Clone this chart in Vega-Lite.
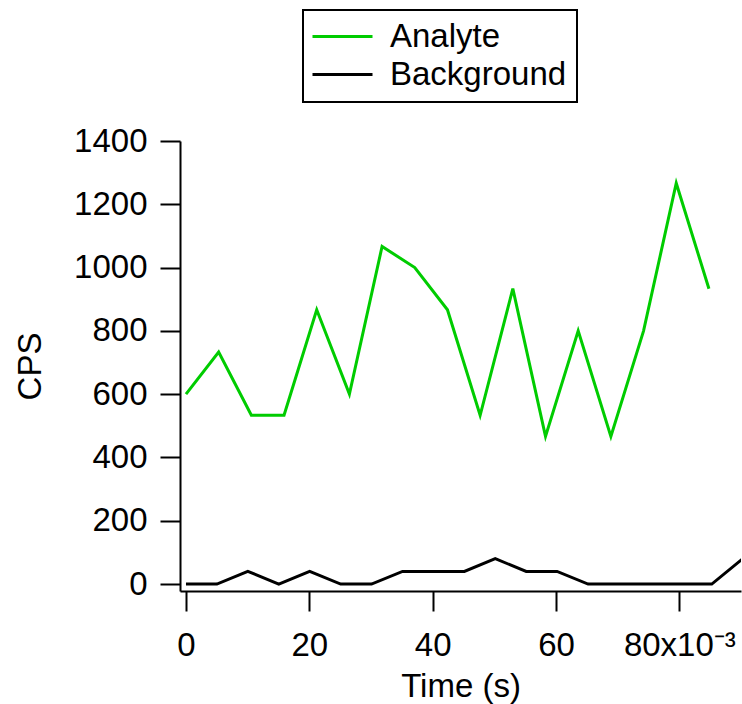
{
  "$schema": "https://vega.github.io/schema/vega-lite/v6.json",
  "autosize": {"type": "none"},
  "padding": {"left": 180, "top": 141, "right": 1, "bottom": 113},
  "width": 561,
  "height": 450,
  "background": "white",
  "data": {
    "values": [
      {"t": 0.0, "cps": 600, "series": "Analyte"},
      {"t": 0.0053, "cps": 733.3, "series": "Analyte"},
      {"t": 0.0106, "cps": 533.3, "series": "Analyte"},
      {"t": 0.0159, "cps": 533.3, "series": "Analyte"},
      {"t": 0.0212, "cps": 866.7, "series": "Analyte"},
      {"t": 0.0265, "cps": 600, "series": "Analyte"},
      {"t": 0.0318, "cps": 1066.7, "series": "Analyte"},
      {"t": 0.0371, "cps": 1000, "series": "Analyte"},
      {"t": 0.0424, "cps": 866.7, "series": "Analyte"},
      {"t": 0.0477, "cps": 533.3, "series": "Analyte"},
      {"t": 0.053, "cps": 933.3, "series": "Analyte"},
      {"t": 0.0583, "cps": 466.7, "series": "Analyte"},
      {"t": 0.0636, "cps": 800, "series": "Analyte"},
      {"t": 0.0689, "cps": 466.7, "series": "Analyte"},
      {"t": 0.0742, "cps": 800, "series": "Analyte"},
      {"t": 0.0795, "cps": 1266.7, "series": "Analyte"},
      {"t": 0.0848, "cps": 933.3, "series": "Analyte"},
      {"t": 0.0, "cps": 0, "series": "Background"},
      {"t": 0.00502, "cps": 0, "series": "Background"},
      {"t": 0.01003, "cps": 40, "series": "Background"},
      {"t": 0.01505, "cps": 0, "series": "Background"},
      {"t": 0.02006, "cps": 40, "series": "Background"},
      {"t": 0.02508, "cps": 0, "series": "Background"},
      {"t": 0.03009, "cps": 0, "series": "Background"},
      {"t": 0.03511, "cps": 40, "series": "Background"},
      {"t": 0.04012, "cps": 40, "series": "Background"},
      {"t": 0.04514, "cps": 40, "series": "Background"},
      {"t": 0.05015, "cps": 80, "series": "Background"},
      {"t": 0.05517, "cps": 40, "series": "Background"},
      {"t": 0.06018, "cps": 40, "series": "Background"},
      {"t": 0.0652, "cps": 0, "series": "Background"},
      {"t": 0.07021, "cps": 0, "series": "Background"},
      {"t": 0.07523, "cps": 0, "series": "Background"},
      {"t": 0.08024, "cps": 0, "series": "Background"},
      {"t": 0.08526, "cps": 0, "series": "Background"},
      {"t": 0.09027, "cps": 80, "series": "Background"}
    ]
  },
  "mark": {"type": "line", "strokeWidth": 3, "clip": true},
  "encoding": {
    "x": {
      "field": "t",
      "type": "quantitative",
      "scale": {"domain": [-0.00097, 0.090], "nice": false, "zero": false},
      "axis": {
        "title": "Time (s)",
        "values": [0, 0.02, 0.04, 0.06, 0.08],
        "labelExpr": "datum.value > 0.07 ? '80x10⁻³' : format(datum.value * 1000, 'd')",
        "labelPadding": 18,
        "titlePadding": 8
      }
    },
    "y": {
      "field": "cps",
      "type": "quantitative",
      "scale": {"domain": [-22, 1400], "nice": false, "zero": false},
      "axis": {
        "title": "CPS",
        "format": "d",
        "values": [0, 200, 400, 600, 800, 1000, 1200, 1400],
        "labelPadding": 13,
        "titlePadding": 26
      }
    },
    "color": {
      "field": "series",
      "type": "nominal",
      "scale": {"domain": ["Analyte", "Background"], "range": ["#00cc00", "#000000"]},
      "legend": {
        "title": null,
        "orient": "none",
        "legendX": 123,
        "legendY": -131,
        "symbolType": "M-3.4,0H8.6",
        "symbolSize": 100,
        "symbolStrokeWidth": 3,
        "labelOffset": 44,
        "labelFontSize": 33,
        "labelFont": "Liberation Sans",
        "labelColor": "black",
        "labelLimit": 400,
        "rowPadding": 4,
        "padding": 10,
        "strokeColor": "black"
      }
    }
  },
  "config": {
    "view": {"stroke": null},
    "axis": {
      "grid": false,
      "domainColor": "black",
      "domainWidth": 2,
      "tickColor": "black",
      "tickWidth": 2,
      "tickSize": 20,
      "labelFont": "Liberation Sans",
      "labelFontSize": 33,
      "labelColor": "black",
      "titleFont": "Liberation Sans",
      "titleFontSize": 33,
      "titleFontWeight": "normal",
      "titleColor": "black"
    },
    "legend": {"strokeWidth": 2}
  }
}
